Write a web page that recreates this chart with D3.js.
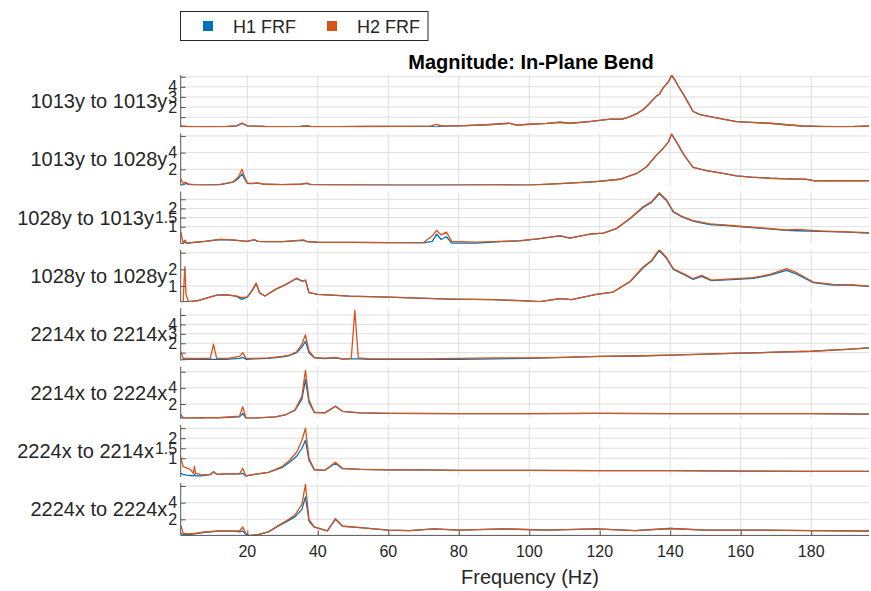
<!DOCTYPE html>
<html>
<head>
<meta charset="utf-8">
<script src="https://cdn.jsdelivr.net/npm/d3@7"></script>
<style>
  body { margin: 0; background: #fff; }
  svg { display: block; font-family: "Liberation Sans", Arial, sans-serif; }
</style>
</head>
<body>
<div id="chart"></div>
<script>
// ---- data ----
var titleText = "Magnitude: In-Plane Bend";
var xLabel = "Frequency (Hz)";
var seriesNames = ["H1 FRF", "H2 FRF"];
var panelNames = ["1013y to 1013y", "1013y to 1028y", "1028y to 1013y", "1028y to 1028y",
                  "2214x to 2214x", "2214x to 2224x", "2224x to 2214x", "2224x to 2224x"];
var xTicks = [20, 40, 60, 80, 100, 120, 140, 160, 180];
var xDomain = [1.1, 196.4];

// y domain, grid ticks, labelled ticks per panel
var yDomains = [[0, 5.17], [0.04, 6.32], [0.06, 2.92], [0.03, 3.17], [0.17, 5.72], [0.17, 6.64], [0.06, 2.67], [0.07, 6.35]];
var yGrid = [[1, 2, 3, 4, 5], [2, 4, 6], [1, 1.5, 2, 2.5], [1, 2, 3], [1, 2, 3, 4, 5], [2, 4, 6], [1, 1.5, 2, 2.5], [2, 4, 6]];
var yLabelled = [[2, 3, 4], [2, 4], [1, 1.5, 2], [1, 2], [2, 3, 4], [2, 4], [1, 1.5, 2], [2, 4]];

// panel 1: 1013y to 1013y
var f1 = [1.1, 3, 8, 14, 17, 18.5, 20, 25, 30, 35, 36.8, 38, 45, 55, 65, 72, 73.7, 75, 80, 88, 94.5, 96.4, 100, 105, 108.7, 111.5, 117, 123, 126.4, 128.6, 130.5, 132.3, 134, 136, 137, 138, 139.5, 140.4, 141.3, 142.3, 143.5, 144.6, 146.5, 148.5, 151.3, 155, 158.8, 163, 168.3, 173, 177.6, 182, 187.2, 192, 196.4];
var h2_1 = [0.15, 0.08, 0.06, 0.08, 0.15, 0.42, 0.15, 0.08, 0.07, 0.09, 0.15, 0.08, 0.07, 0.08, 0.1, 0.12, 0.3, 0.14, 0.15, 0.25, 0.4, 0.22, 0.3, 0.38, 0.5, 0.4, 0.56, 0.8, 0.8, 1.06, 1.35, 1.73, 2.3, 3.06, 3.3, 3.9, 4.5, 5.16, 4.7, 4.06, 3.4, 2.73, 1.56, 1.25, 1.06, 0.8, 0.56, 0.48, 0.4, 0.25, 0.13, 0.1, 0.07, 0.08, 0.13];
var h1_1 = [0.1, 0.06, 0.05, 0.07, 0.14, 0.38, 0.14, 0.08, 0.07, 0.09, 0.13, 0.08, 0.07, 0.08, 0.1, 0.1, 0.02, 0.12, 0.15, 0.25, 0.4, 0.22, 0.3, 0.38, 0.5, 0.4, 0.56, 0.8, 0.8, 1.06, 1.35, 1.73, 2.3, 3.06, 3.3, 3.9, 4.5, 5.12, 4.7, 4.06, 3.4, 2.73, 1.56, 1.25, 1.06, 0.8, 0.56, 0.48, 0.4, 0.25, 0.13, 0.08, 0.04, 0.07, 0.12];

// panel 2: 1013y to 1028y
var f2 = [1.1, 1.8, 2.5, 3.5, 5, 8, 12, 16, 17.5, 18.5, 19.3, 20, 21, 23, 25, 30, 35, 36.8, 38, 45, 60, 75, 90, 100, 110, 119, 125.7, 130.5, 133.3, 136.1, 138, 139.5, 140.4, 141.3, 142.3, 143.5, 144.6, 146.5, 150.3, 155, 158.8, 163, 168.3, 173, 178.7, 181, 186, 192, 196.4];
var h2_2 = [0.9, 0.3, 0.45, 0.2, 0.15, 0.12, 0.15, 0.5, 1.1, 2.0, 1.0, 0.35, 0.3, 0.35, 0.2, 0.15, 0.2, 0.35, 0.15, 0.12, 0.1, 0.1, 0.12, 0.1, 0.3, 0.52, 0.8, 1.5, 2.3, 3.7, 4.5, 5.3, 6.24, 5.6, 4.9, 4.0, 3.3, 2.24, 1.84, 1.5, 1.2, 1.05, 0.92, 0.85, 0.8, 0.6, 0.62, 0.62, 0.64];
var h1_2 = [0.12, 0.12, 0.3, 0.15, 0.12, 0.1, 0.14, 0.45, 0.9, 1.44, 0.8, 0.3, 0.28, 0.33, 0.2, 0.15, 0.2, 0.3, 0.15, 0.12, 0.1, 0.1, 0.12, 0.1, 0.3, 0.52, 0.8, 1.5, 2.3, 3.7, 4.5, 5.3, 6.2, 5.6, 4.9, 4.0, 3.3, 2.24, 1.84, 1.5, 1.2, 1.05, 0.92, 0.85, 0.78, 0.6, 0.6, 0.6, 0.62];

// panel 3: 1028y to 1013y
var f3 = [1.1, 1.8, 2.3, 2.8, 3.3, 5, 8, 12.3, 16, 19.8, 22, 23, 25, 30, 36, 37, 40, 50, 60, 70, 72.5, 73.7, 75, 76.5, 78, 85, 92, 97.4, 103, 108.7, 111.5, 117.2, 121, 124.8, 128.6, 132.3, 134.7, 136.9, 139, 140.9, 143.5, 146.5, 148.4, 151.3, 155, 158.8, 165, 173, 176, 182.5, 190, 196.4];
var h2_3 = [0.73, 0.1, 0.27, 0.1, 0.12, 0.15, 0.2, 0.31, 0.28, 0.2, 0.3, 0.2, 0.18, 0.18, 0.28, 0.18, 0.15, 0.14, 0.13, 0.14, 0.5, 0.8, 0.55, 0.7, 0.2, 0.16, 0.2, 0.24, 0.35, 0.51, 0.37, 0.6, 0.65, 0.91, 1.46, 2.09, 2.37, 2.86, 2.46, 1.82, 1.55, 1.33, 1.27, 1.15, 1.1, 1.04, 0.95, 0.82, 0.85, 0.77, 0.72, 0.67];
var h1_3 = [0.08, 0.06, 0.2, 0.08, 0.1, 0.14, 0.2, 0.3, 0.27, 0.2, 0.28, 0.2, 0.18, 0.18, 0.25, 0.18, 0.15, 0.14, 0.13, 0.12, 0.2, 0.6, 0.3, 0.45, 0.1, 0.1, 0.18, 0.22, 0.35, 0.5, 0.37, 0.6, 0.65, 0.9, 1.44, 2.05, 2.33, 2.8, 2.42, 1.8, 1.52, 1.3, 1.22, 1.12, 1.08, 1.02, 0.93, 0.8, 0.78, 0.75, 0.7, 0.65];

// panel 4: 1028y to 1028y
var f4 = [1.1, 1.8, 2.1, 2.3, 2.6, 3.3, 6, 11.3, 14.2, 17, 18.4, 20, 21.5, 22.5, 23.5, 25, 28, 31, 34, 35.5, 36.5, 37.5, 40, 49, 60, 77.5, 90, 97.4, 103, 108.7, 112, 119, 123.8, 128.6, 132.3, 134.7, 136.9, 139, 140.9, 144.2, 146.5, 148.9, 151.7, 158.8, 163.6, 168.3, 173, 175.9, 180.6, 186.2, 191, 196.4];
var h2_4 = [0.06, 0.06, 1.5, 2.16, 0.5, 0.06, 0.12, 0.46, 0.48, 0.4, 0.3, 0.35, 0.8, 1.18, 0.6, 0.4, 0.8, 1.1, 1.48, 1.3, 1.36, 0.6, 0.5, 0.4, 0.33, 0.22, 0.18, 0.12, 0.06, 0.24, 0.18, 0.5, 0.64, 1.28, 2.14, 2.54, 3.2, 2.7, 2.04, 1.7, 1.44, 1.64, 1.36, 1.44, 1.5, 1.7, 2.04, 1.8, 1.24, 1.1, 1.08, 1.0];
var h1_4 = [0.04, 0.04, 0.05, 0.06, 0.06, 0.06, 0.12, 0.45, 0.47, 0.38, 0.2, 0.33, 0.75, 1.15, 0.6, 0.4, 0.8, 1.1, 1.45, 1.3, 1.34, 0.6, 0.5, 0.4, 0.33, 0.22, 0.18, 0.12, 0.06, 0.24, 0.18, 0.5, 0.64, 1.26, 2.1, 2.5, 3.12, 2.65, 2.0, 1.65, 1.4, 1.58, 1.32, 1.4, 1.46, 1.65, 1.94, 1.72, 1.2, 1.06, 1.05, 0.98];

// panel 5: 2214x to 2214x
var f5 = [1.1, 1.8, 3, 6, 9.5, 10.4, 11.3, 14, 17.8, 18.7, 19.6, 22, 26, 30, 32, 34, 35.5, 36.5, 37.5, 39, 42, 45, 47, 49.5, 50.5, 51.5, 55, 60, 70, 80, 90, 100, 110, 120, 130, 140, 150, 160, 170, 180, 190, 196.4];
var h2_5 = [1.1, 0.4, 0.38, 0.38, 0.4, 1.9, 0.4, 0.38, 0.6, 1.0, 0.4, 0.4, 0.45, 0.6, 0.75, 1.1, 1.9, 2.9, 1.2, 0.5, 0.4, 0.5, 0.35, 0.4, 5.5, 0.45, 0.35, 0.35, 0.35, 0.4, 0.45, 0.45, 0.5, 0.6, 0.65, 0.75, 0.85, 0.95, 1.05, 1.15, 1.35, 1.5];
var h1_5 = [0.2, 0.25, 0.3, 0.3, 0.3, 0.3, 0.3, 0.3, 0.4, 0.5, 0.3, 0.35, 0.4, 0.55, 0.7, 1.0, 1.6, 2.2, 1.0, 0.45, 0.38, 0.45, 0.32, 0.35, 0.35, 0.35, 0.3, 0.3, 0.3, 0.3, 0.35, 0.4, 0.5, 0.6, 0.65, 0.75, 0.85, 0.95, 1.05, 1.15, 1.35, 1.5];

// panel 6: 2214x to 2224x
var f6 = [1.1, 1.8, 4, 7, 7.3, 7.6, 12, 17.8, 18.7, 19.6, 22, 28, 31, 33.5, 35.5, 36.5, 37.5, 39, 42, 45, 47, 52, 60, 80, 100, 120, 140, 160, 180, 196.4];
var h2_6 = [0.72, 0.3, 0.28, 0.3, 0.3, 0.3, 0.3, 0.5, 1.66, 0.3, 0.25, 0.4, 0.7, 1.26, 3.0, 6.2, 2.5, 1.0, 0.9, 1.75, 1.1, 0.9, 0.85, 0.8, 0.8, 0.85, 0.8, 0.8, 0.8, 0.75];
var h1_6 = [0.3, 0.25, 0.26, 0.28, 0.1, 0.28, 0.3, 0.4, 0.85, 0.25, 0.25, 0.4, 0.7, 1.2, 2.6, 5.0, 2.2, 0.95, 0.9, 1.7, 1.1, 0.9, 0.85, 0.8, 0.8, 0.85, 0.8, 0.8, 0.8, 0.75];

// panel 7: 2224x to 2214x
var f7 = [1.1, 1.8, 2.7, 3.8, 4.7, 5.0, 5.3, 7, 9.5, 10.4, 11.3, 14, 17.8, 18.7, 19.6, 22, 26, 30, 32, 34, 35.5, 36.5, 37.5, 39, 42, 45, 47, 52, 60, 70, 80, 100, 120, 140, 160, 180, 196.4];
var h2_7 = [1.05, 0.58, 0.52, 0.45, 0.25, 0.6, 0.25, 0.17, 0.2, 0.33, 0.2, 0.22, 0.22, 0.5, 0.12, 0.2, 0.3, 0.6, 0.9, 1.3, 1.9, 2.5, 1.0, 0.45, 0.4, 0.8, 0.5, 0.45, 0.42, 0.42, 0.4, 0.4, 0.38, 0.38, 0.36, 0.35, 0.35];
var h1_7 = [0.25, 0.2, 0.16, 0.14, 0.12, 0.2, 0.12, 0.12, 0.18, 0.33, 0.2, 0.22, 0.22, 0.25, 0.12, 0.2, 0.3, 0.55, 0.8, 1.1, 1.5, 1.9, 0.9, 0.42, 0.4, 0.75, 0.48, 0.45, 0.42, 0.42, 0.4, 0.4, 0.38, 0.38, 0.36, 0.35, 0.35];

// panel 8: 2224x to 2224x
var f8 = [1.1, 1.8, 3, 5, 8, 12, 16, 17.8, 18.7, 19.6, 20.5, 23, 26, 29, 31, 33.5, 35.5, 36.5, 37.5, 39, 42.7, 45, 47, 52, 60, 66, 73, 80, 93, 105, 119, 130, 140, 150, 165, 180, 196.4];
var h2_8 = [1.3, 0.35, 0.25, 0.3, 0.5, 0.6, 0.6, 0.6, 1.1, 0.3, 0.05, 0.15, 0.5, 1.3, 1.8, 2.5, 3.8, 6.2, 2.0, 1.1, 0.6, 2.1, 1.2, 1.0, 0.7, 0.65, 0.85, 0.7, 0.85, 0.7, 0.85, 0.65, 0.9, 0.7, 0.7, 0.65, 0.6];
var h1_8 = [0.3, 0.2, 0.15, 0.25, 0.45, 0.58, 0.58, 0.5, 0.6, 0.2, 0.05, 0.15, 0.5, 1.25, 1.7, 2.3, 3.2, 4.7, 1.8, 1.05, 0.6, 2.0, 1.15, 1.0, 0.7, 0.65, 0.85, 0.7, 0.85, 0.7, 0.85, 0.65, 0.9, 0.7, 0.7, 0.65, 0.6];

var freqs = [f1, f2, f3, f4, f5, f6, f7, f8];
var h1 = [h1_1, h1_2, h1_3, h1_4, h1_5, h1_6, h1_7, h1_8];
var h2 = [h2_1, h2_2, h2_3, h2_4, h2_5, h2_6, h2_7, h2_8];

// ---- layout ----
var W = 871, H = 591;
var left = 180.7, right = 869;
var firstBottom = 127.3, pitch = 58.3, panelH = 52.3;
var colors = ["#0072BD", "#D95319"];
var gridColor = "#dfdfdf", axisColor = "#555", textColor = "#262626";

var svg = d3.select("#chart").append("svg")
  .attr("width", W).attr("height", H);

svg.append("rect").attr("width", W).attr("height", H).attr("fill", "#fff");

var x = d3.scaleLinear().domain(xDomain).range([left, right]);

var defs = svg.append("defs");

panelNames.forEach(function(name, i) {
  var bottom = firstBottom + pitch * i;
  var top = bottom - panelH;
  var y = d3.scaleLinear().domain(yDomains[i]).range([bottom, top]);

  var g = svg.append("g").attr("class", "panel");

  defs.append("clipPath").attr("id", "clip" + i)
    .append("rect").attr("x", left).attr("y", top)
    .attr("width", right - left).attr("height", panelH);

  // grid
  g.append("g").selectAll("line.vx").data(xTicks).enter().append("line")
    .attr("x1", function(d) { return x(d); }).attr("x2", function(d) { return x(d); })
    .attr("y1", top).attr("y2", bottom)
    .attr("stroke", gridColor).attr("stroke-width", 1);
  g.append("g").selectAll("line.hy").data(yGrid[i]).enter().append("line")
    .attr("x1", left).attr("x2", right)
    .attr("y1", function(d) { return y(d); }).attr("y2", function(d) { return y(d); })
    .attr("stroke", gridColor).attr("stroke-width", 1);

  // curves
  var line = d3.line()
    .x(function(d) { return x(d[0]); })
    .y(function(d) { return y(d[1]); });
  [h1[i], h2[i]].forEach(function(vals, s) {
    var pts = freqs[i].map(function(f, k) { return [f, vals[k]]; });
    g.append("path").datum(pts)
      .attr("clip-path", "url(#clip" + i + ")")
      .attr("fill", "none")
      .attr("stroke", colors[s])
      .attr("stroke-width", 1.3)
      .attr("stroke-linejoin", "round")
      .attr("d", line);
  });

  // y axis with inward ticks
  var yAxis = d3.axisRight(y).tickValues(yGrid[i]).tickSize(5).tickFormat("");
  var ya = g.append("g").attr("transform", "translate(" + left + ",0)").call(yAxis);
  ya.select(".domain").attr("stroke", axisColor).attr("d", "M0," + top + "V" + bottom);
  ya.selectAll(".tick line").attr("stroke", axisColor);

  // tick labels (they overlap as in the original)
  var tl = g.append("g").selectAll("text").data(yLabelled[i]).enter().append("text")
    .attr("x", left - 3.5)
    .attr("y", function(d) { return y(d); })
    .attr("dy", "0.35em")
    .attr("text-anchor", "end")
    .attr("font-size", 16)
    .attr("fill", textColor)
    .text(function(d) { return d; });

  var minX = left;
  tl.each(function() { var b = this.getBBox(); minX = Math.min(minX, b.x); });

  g.append("text")
    .attr("x", minX - 1)
    .attr("y", (top + bottom) / 2)
    .attr("dy", "0.35em")
    .attr("text-anchor", "end")
    .attr("font-size", 20)
    .attr("fill", textColor)
    .text(name);

  // bottom x axis on last panel
  if (i === panelNames.length - 1) {
    var xAxis = d3.axisTop(x).tickValues(xTicks).tickSize(5).tickFormat("");
    var xa = g.append("g").attr("transform", "translate(0," + bottom + ")").call(xAxis);
    xa.select(".domain").attr("stroke", axisColor).attr("d", "M" + left + ",0H" + right);
    xa.selectAll(".tick line").attr("stroke", axisColor);
    g.append("g").selectAll("text").data(xTicks).enter().append("text")
      .attr("x", function(d) { return x(d); })
      .attr("y", bottom + 22)
      .attr("text-anchor", "middle")
      .attr("font-size", 16)
      .attr("fill", textColor)
      .text(function(d) { return d; });
  }
});

// title and x label
svg.append("text").attr("x", 531).attr("y", 69)
  .attr("text-anchor", "middle").attr("font-size", 20).attr("font-weight", "bold")
  .attr("fill", "#000").text(titleText);

svg.append("text").attr("x", 530).attr("y", 584)
  .attr("text-anchor", "middle").attr("font-size", 20)
  .attr("fill", textColor).text(xLabel);

// legend
var lg = svg.append("g");
lg.append("rect").attr("x", 180.5).attr("y", 11.5).attr("width", 247.5).attr("height", 29)
  .attr("fill", "#fff").attr("stroke", textColor).attr("stroke-width", 1);
var legX = [203, 327];
seriesNames.forEach(function(n, s) {
  lg.append("rect").attr("x", legX[s]).attr("y", 21).attr("width", 10).attr("height", 10)
    .attr("fill", colors[s]);
  lg.append("text").attr("x", legX[s] + 30).attr("y", 32.5)
    .attr("font-size", 18).attr("fill", textColor).text(n);
});
</script>
</body>
</html>
